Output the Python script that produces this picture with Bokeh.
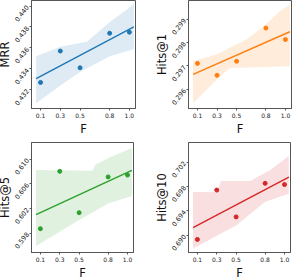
import numpy as np
from bokeh.plotting import figure
from bokeh.layouts import column, row
from bokeh.models import FixedTicker, PrintfTickFormatter, Range1d, LinearAxis
from bokeh.embed import file_html
from bokeh.resources import INLINE

F = [0.1, 0.3, 0.5, 0.8, 1.0]
x_tick_labels = ["0.1", "0.3", "0.5", "0.8", "1.0"]

mrr = [0.4327, 0.4357, 0.4341, 0.4374, 0.4375]
hits1 = [0.29711, 0.29660, 0.29720, 0.29862, 0.29813]
hits5 = [0.5987, 0.6080, 0.6013, 0.6071, 0.6074]
hits10 = [0.6893, 0.6974, 0.6930, 0.6985, 0.6983]

# confidence band edges
mrr_up_x = [0.055, 0.3, 0.57, 0.805, 0.98, 1.045]
mrr_up = [0.4352, 0.4361, 0.4366, 0.4385, 0.4397, 0.4402]
mrr_lo_x = [0.055, 0.3, 0.5, 0.8, 1.045]
mrr_lo = [0.4307, 0.4324, 0.4337, 0.4352, 0.4359]

h1_up_x = [0.055, 0.3, 0.605, 0.775, 0.94, 1.045]
h1_up = [0.29720, 0.29750, 0.29814, 0.29869, 0.29933, 0.29963]
h1_lo_x = [0.055, 0.3, 0.43, 1.045]
h1_lo = [0.29542, 0.29642, 0.29691, 0.29699]

h5_up_x = [0.055, 0.637, 0.671, 0.84, 1.045]
h5_up = [0.6082, 0.6081, 0.6091, 0.6104, 0.6118]
h5_lo_x = [0.055, 0.5, 0.8, 1.045]
h5_lo = [0.5959, 0.6001, 0.6028, 0.6040]

h10_up_x = [0.055, 0.308, 0.342, 0.649, 0.853, 1.045]
h10_up = [0.6971, 0.6971, 0.6989, 0.6989, 0.7007, 0.7030]
h10_lo_x = [0.055, 0.5, 0.8, 1.045]
h10_lo = [0.6878, 0.6916, 0.6955, 0.6968]

mrr_ticks = [0.432, 0.434, 0.436, 0.438, 0.440]
h1_ticks = [0.296, 0.297, 0.298, 0.299]
h5_ticks = [0.598, 0.602, 0.606, 0.610]
h10_ticks = [0.690, 0.694, 0.698, 0.702]

FONT = "DejaVu Sans"


def panel(y, up_x, up, lo_x, lo, yticks, yr, color, label, right, top, bottom, fw, fh):
    p = figure(frame_width=fw, frame_height=fh, output_backend="svg", toolbar_location=None,
               x_range=Range1d(0.008, 1.062), y_range=Range1d(*yr),
               min_border_left=0, min_border_right=right,
               min_border_top=top, min_border_bottom=bottom)
    p.grid.visible = False
    p.outline_line_color = "#555555"
    p.outline_line_width = 1
    xs = list(up_x) + list(lo_x)[::-1]
    ys = list(up) + list(lo)[::-1]
    p.patch(xs, ys, fill_color=color, fill_alpha=0.15, line_color=None)
    a, b = np.polyfit(F, y, 1)
    lx = [0.055, 1.045]
    p.line(lx, [a * v + b for v in lx], line_color=color, line_width=1.4)
    p.scatter(F, y, size=4, fill_color=color, line_color=color)

    p.xaxis.ticker = FixedTicker(ticks=F)
    p.xaxis.major_label_overrides = {v: s for v, s in zip(F, x_tick_labels)}
    p.yaxis.ticker = FixedTicker(ticks=yticks)
    p.yaxis.formatter = PrintfTickFormatter(format="%.3f")
    p.yaxis.major_label_orientation = 0.9
    for ax in (p.xaxis, p.yaxis):
        ax.axis_line_color = "#555555"
        ax.major_tick_line_color = "#555555"
        ax.major_tick_out = 2
        ax.major_tick_in = 0
        ax.minor_tick_line_color = None
        ax.major_label_text_font = FONT
        ax.major_label_text_font_size = "6px"
        ax.major_label_text_color = "#222222"
        ax.major_label_standoff = 2
        ax.axis_label_text_font = FONT
        ax.axis_label_text_font_size = "11.5px"
        ax.axis_label_text_font_style = "normal"
        ax.axis_label_text_color = "#111111"
        ax.axis_label_standoff = 1
    p.yaxis.major_label_text_font_size = "6.5px"
    p.yaxis.axis_label_standoff = -3
    p.xaxis.axis_label = "F"
    p.yaxis.axis_label = label

    # blank outer spacer so the y label is not flush with the canvas edge
    spacer = LinearAxis(ticker=FixedTicker(ticks=[]), axis_line_color=None,
                        major_tick_line_color=None, minor_tick_line_color=None,
                        major_tick_out=0, major_tick_in=0, minor_tick_out=0,
                        major_label_standoff=0, major_label_text_font_size="0px",
                        axis_label=" ", axis_label_text_font_size="3px",
                        axis_label_standoff=0)
    p.add_layout(spacer, "left")
    return p


p1 = panel(mrr, mrr_up_x, mrr_up, mrr_lo_x, mrr_lo, mrr_ticks, (0.43021, 0.44053),
           "#1f77b4", "MRR", 11, 4, 28, 104, 108)
p2 = panel(hits1, h1_up_x, h1_up, h1_lo_x, h1_lo, h1_ticks, (0.29518, 0.29980),
           "#ff7f0e", "Hits@1", 7, 4, 28, 103, 108)
p3 = panel(hits5, h5_up_x, h5_up, h5_lo_x, h5_lo, h5_ticks, (0.59484, 0.61268),
           "#2ca02c", "Hits@5", 13, 4, 25, 102, 110)
p4 = panel(hits10, h10_up_x, h10_up, h10_lo_x, h10_lo, h10_ticks, (0.68716, 0.70520),
           "#d62728", "Hits@10", 8, 4, 25, 102, 110)

layout = column(row(p1, p2, spacing=0), row(p3, p4, spacing=0), spacing=0,
                margin=(-4, 0, 0, -11))

open("out.html", "w").write(file_html(layout, INLINE))
